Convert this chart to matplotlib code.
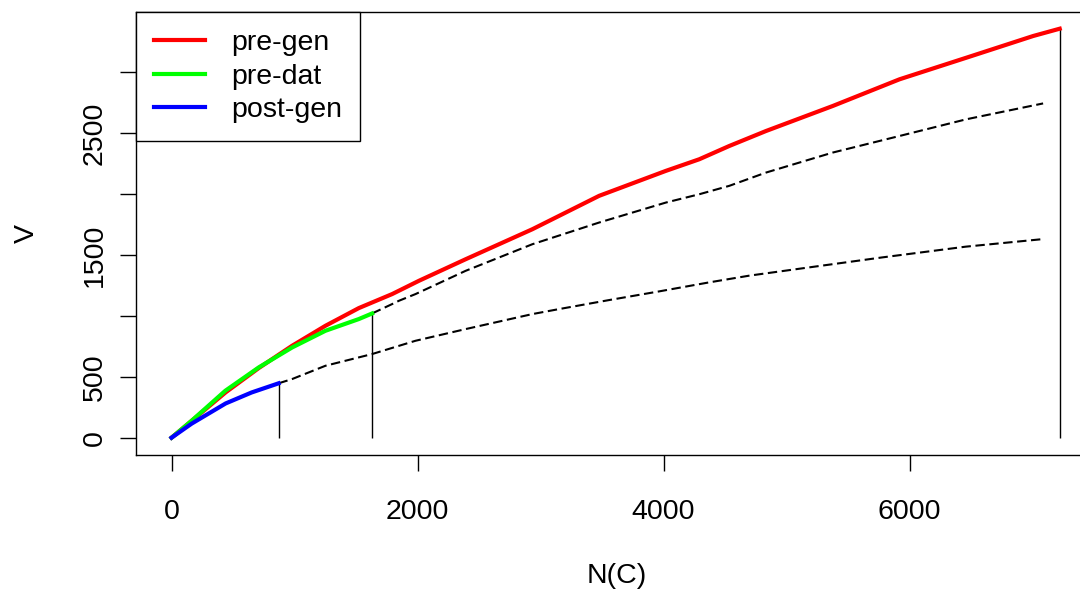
import matplotlib
matplotlib.use("Agg")
import matplotlib.pyplot as plt

# N(C) / V readings for each curve
pre_gen_n = [0, 160, 440, 710, 980, 1251, 1522, 1793, 2011, 2391, 2933, 3476,
             4019, 4290, 4534, 4833, 5375, 5918, 6461, 7004, 7220]
pre_gen_v = [0, 135, 372, 572, 754, 918, 1063, 1178, 1287, 1464, 1710, 1984,
             2189, 2284, 2393, 2516, 2721, 2940, 3117, 3295, 3355]

pre_dat_n = [0, 163, 437, 708, 980, 1251, 1522, 1630]
pre_dat_v = [0, 139, 385, 576, 740, 877, 973, 1019]

post_gen_n = [0, 163, 440, 651, 870]
post_gen_v = [0, 115, 281, 371, 446]

# dashed continuations
dat_ext_n = [1630, 1793, 1848, 1983, 2391, 2933, 3476, 4019, 4290, 4534,
             4833, 5375, 5918, 6461, 7085]
dat_ext_v = [1019, 1096, 1123, 1178, 1369, 1587, 1765, 1929, 1997, 2066,
             2175, 2339, 2475, 2612, 2742]

gen_ext_n = [870, 980, 1251, 1630, 1983, 2391, 2933, 3150, 3557, 3963,
             4370, 4695, 5183, 5778, 6456, 7093]
gen_ext_v = [446, 481, 590, 686, 795, 891, 1014, 1055, 1129, 1200,
             1274, 1329, 1397, 1479, 1567, 1630]

y_ticks = [0, 500, 1000, 1500, 2000, 2500, 3000]
y_labels = ["0", "500", "", "1500", "", "2500", ""]
x_ticks = [0, 2000, 4000, 6000]

plt.rcParams['font.family'] = ['Liberation Sans', 'DejaVu Sans']
FS = 20.5

fig = plt.figure(figsize=(10.8, 5.9), dpi=100)
ax = fig.add_axes([136/1080, 135/590, 960/1080, 443/590])

lw = 3.0
ax.plot(pre_gen_n, pre_gen_v, color='#ff0000', lw=lw, label='pre-gen', zorder=3)
ax.plot(pre_dat_n, pre_dat_v, color='#00ff00', lw=lw, label='pre-dat', zorder=4)
ax.plot(post_gen_n, post_gen_v, color='#0000ff', lw=lw, label='post-gen', zorder=5)

ax.plot(dat_ext_n, dat_ext_v, color='black', lw=1.5, dashes=(4.5, 2.2), zorder=2)
ax.plot(gen_ext_n, gen_ext_v, color='black', lw=1.5, dashes=(4.5, 2.2), zorder=2)

ends_n = [post_gen_n[-1], pre_dat_n[-1], pre_gen_n[-1]]
ends_v = [post_gen_v[-1], pre_dat_v[-1], pre_gen_v[-1]]
ax.vlines(ends_n, 0, ends_v, color='black', lw=1.0, zorder=2)

ax.set_xlim(-289, 7515)
ax.set_ylim(-142, 3492)

ax.set_xticks(x_ticks)
ax.set_xticklabels([str(t) for t in x_ticks])
ax.set_yticks(y_ticks)
ax.set_yticklabels(y_labels)
ax.tick_params(axis='both', direction='out', length=11.5, width=1.0,
               labelsize=FS, color='black')
ax.tick_params(axis='x', pad=20)
ax.tick_params(axis='y', pad=9)
for lab in ax.get_yticklabels():
    lab.set_rotation(90)
    lab.set_va('center')
    lab.set_ha('right')

for s in ax.spines.values():
    s.set_linewidth(1.0)
    s.set_color('black')

ax.set_xlabel('N(C)', fontsize=FS)
ax.set_ylabel('V', fontsize=FS)
ax.xaxis.set_label_coords((617 - 136) / 960, (455 - 576) / 443)
ax.yaxis.set_label_coords((26.5 - 136) / 960, 0.5)
ax.xaxis.label.set_va('center')
ax.yaxis.label.set_va('center')

leg = ax.legend(loc='upper left', bbox_to_anchor=(0, 1), borderaxespad=0,
                fancybox=False, edgecolor='black', framealpha=1,
                fontsize=FS, handlelength=1.8, handletextpad=0.9,
                borderpad=0.64, labelspacing=0.26)
leg.get_frame().set_linewidth(1.0)

fig.savefig('out.png', dpi=100)
